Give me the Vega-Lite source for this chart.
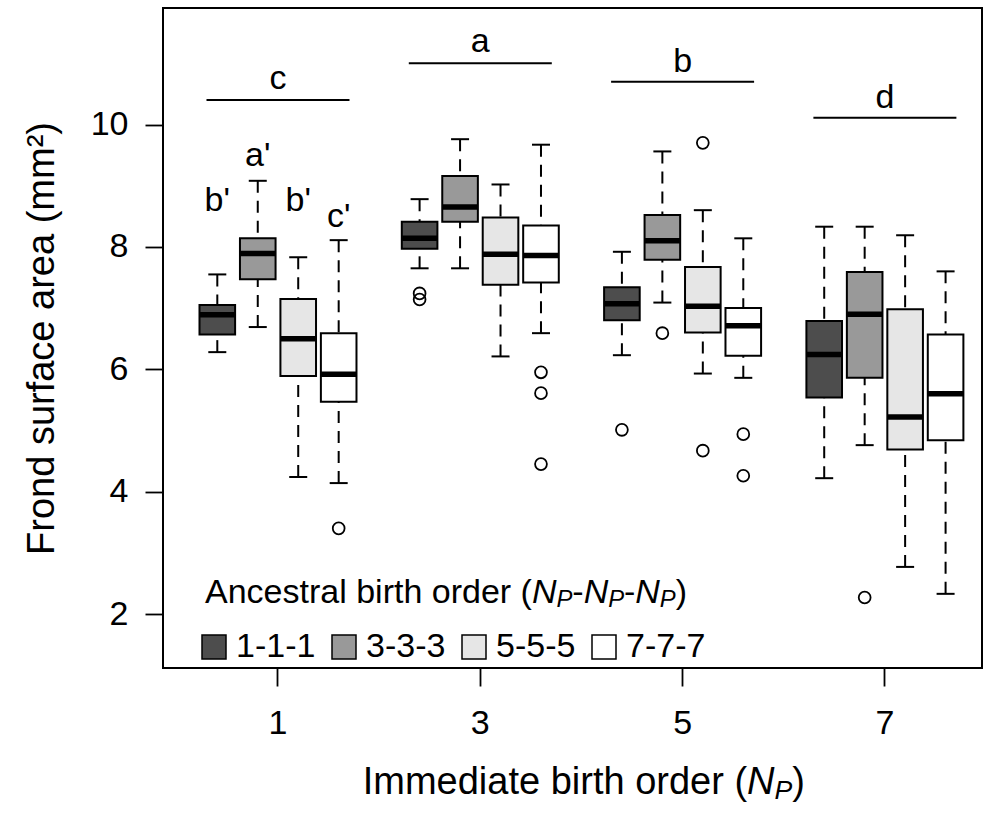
{
  "$schema": "https://vega.github.io/schema/vega-lite/v6.json",
  "width": 819,
  "height": 660,
  "autosize": {"type": "none"},
  "padding": {"left": 163, "top": 8, "right": 13, "bottom": 145},
  "background": "white",
  "config": {
    "font": "Liberation Sans",
    "view": {"stroke": "black", "strokeWidth": 2},
    "axis": {
      "domain": false, "grid": false,
      "tickColor": "black", "tickWidth": 1.8, "tickSize": 18,
      "labelColor": "black", "labelFontSize": 34,
      "titleColor": "black", "titleFontWeight": "normal"
    },
    "axisY": {
      "labelPadding": 17, "titleFontSize": 38, "titleAngle": -90,
      "titleX": -110, "titleY": 330, "titleAlign": "center", "titleBaseline": "alphabetic"
    },
    "text": {"color": "black"}
  },
  "datasets": {
    "boxes": [
      {"np": "1", "anc": "1-1-1", "lo": 6.28, "q1": 6.57, "med": 6.89, "q3": 7.05, "hi": 7.55},
      {"np": "1", "anc": "3-3-3", "lo": 6.69, "q1": 7.47, "med": 7.89, "q3": 8.14, "hi": 9.08},
      {"np": "1", "anc": "5-5-5", "lo": 4.24, "q1": 5.89, "med": 6.50, "q3": 7.15, "hi": 7.83},
      {"np": "1", "anc": "7-7-7", "lo": 4.14, "q1": 5.47, "med": 5.92, "q3": 6.59, "hi": 8.11},
      {"np": "3", "anc": "1-1-1", "lo": 7.65, "q1": 7.97, "med": 8.14, "q3": 8.41, "hi": 8.78},
      {"np": "3", "anc": "3-3-3", "lo": 7.65, "q1": 8.41, "med": 8.65, "q3": 9.16, "hi": 9.76},
      {"np": "3", "anc": "5-5-5", "lo": 6.21, "q1": 7.38, "med": 7.88, "q3": 8.48, "hi": 9.02},
      {"np": "3", "anc": "7-7-7", "lo": 6.59, "q1": 7.42, "med": 7.86, "q3": 8.35, "hi": 9.67},
      {"np": "5", "anc": "1-1-1", "lo": 6.23, "q1": 6.80, "med": 7.07, "q3": 7.34, "hi": 7.92},
      {"np": "5", "anc": "3-3-3", "lo": 7.09, "q1": 7.79, "med": 8.10, "q3": 8.52, "hi": 9.56},
      {"np": "5", "anc": "5-5-5", "lo": 5.93, "q1": 6.60, "med": 7.03, "q3": 7.67, "hi": 8.60},
      {"np": "5", "anc": "7-7-7", "lo": 5.86, "q1": 6.22, "med": 6.71, "q3": 7.00, "hi": 8.14},
      {"np": "7", "anc": "1-1-1", "lo": 4.22, "q1": 5.54, "med": 6.24, "q3": 6.79, "hi": 8.33},
      {"np": "7", "anc": "3-3-3", "lo": 4.76, "q1": 5.86, "med": 6.90, "q3": 7.59, "hi": 8.33},
      {"np": "7", "anc": "5-5-5", "lo": 2.77, "q1": 4.69, "med": 5.22, "q3": 6.98, "hi": 8.19},
      {"np": "7", "anc": "7-7-7", "lo": 2.33, "q1": 4.84, "med": 5.60, "q3": 6.57, "hi": 7.60}
    ],
    "outliers": [
      {"np": "1", "anc": "7-7-7", "value": 3.40},
      {"np": "3", "anc": "1-1-1", "value": 7.24},
      {"np": "3", "anc": "1-1-1", "value": 7.14},
      {"np": "3", "anc": "7-7-7", "value": 5.95},
      {"np": "3", "anc": "7-7-7", "value": 5.61},
      {"np": "3", "anc": "7-7-7", "value": 4.45},
      {"np": "5", "anc": "1-1-1", "value": 5.01},
      {"np": "5", "anc": "3-3-3", "value": 6.59},
      {"np": "5", "anc": "5-5-5", "value": 9.70},
      {"np": "5", "anc": "5-5-5", "value": 4.67},
      {"np": "5", "anc": "7-7-7", "value": 4.94},
      {"np": "5", "anc": "7-7-7", "value": 4.26},
      {"np": "7", "anc": "3-3-3", "value": 2.27}
    ],
    "groupLetters": [
      {"np": "1", "label": "c", "y": 10.58, "bar": 10.40},
      {"np": "3", "label": "a", "y": 11.18, "bar": 11.00},
      {"np": "5", "label": "b", "y": 10.86, "bar": 10.70},
      {"np": "7", "label": "d", "y": 10.27, "bar": 10.11}
    ],
    "primeLetters": [
      {"np": "1", "anc": "1-1-1", "label": "b'", "y": 8.59},
      {"np": "1", "anc": "3-3-3", "label": "a'", "y": 9.32},
      {"np": "1", "anc": "5-5-5", "label": "b'", "y": 8.59},
      {"np": "1", "anc": "7-7-7", "label": "c'", "y": 8.33}
    ]
  },
  "resolve": {"scale": {"x": "independent", "y": "independent"}},
  "layer": [
    {
      "encoding": {
        "x": {
          "field": "np", "type": "ordinal",
          "scale": {"type": "band", "domain": ["1", "3", "5", "7"], "paddingInner": 0.2, "paddingOuter": 0.1242, "align": 0.678},
          "axis": {"labelAngle": 0, "labelPadding": 20, "title": null}
        }
      },
      "layer": [
        {
          "data": {"name": "boxes"},
          "mark": {"type": "rule", "color": "black", "strokeWidth": 2, "strokeDash": [12, 8]},
          "encoding": {
            "xOffset": {"field": "anc", "type": "nominal", "scale": {"domain": ["1-1-1", "3-3-3", "5-5-5", "7-7-7"], "paddingInner": 0.12, "paddingOuter": 0.06}},
            "y": {
              "field": "hi", "type": "quantitative", "title": "Frond surface area (mm²)",
              "scale": {"domain": [1.118, 11.904], "nice": false, "zero": false},
              "axis": {"values": [2, 4, 6, 8, 10], "format": "d"}
            },
            "y2": {"field": "q3"}
          }
        },
        {
          "data": {"name": "boxes"},
          "mark": {"type": "rule", "color": "black", "strokeWidth": 2, "strokeDash": [12, 8]},
          "encoding": {
            "xOffset": {"field": "anc", "type": "nominal"},
            "y": {"field": "lo", "type": "quantitative", "title": "Frond surface area (mm²)"},
            "y2": {"field": "q1"}
          }
        },
        {
          "data": {"name": "boxes"},
          "mark": {"type": "tick", "color": "black", "thickness": 2, "size": 18, "orient": "horizontal", "opacity": 1},
          "encoding": {
            "xOffset": {"field": "anc", "type": "nominal"},
            "y": {"field": "hi", "type": "quantitative", "title": "Frond surface area (mm²)"}
          }
        },
        {
          "data": {"name": "boxes"},
          "mark": {"type": "tick", "color": "black", "thickness": 2, "size": 18, "orient": "horizontal", "opacity": 1},
          "encoding": {
            "xOffset": {"field": "anc", "type": "nominal"},
            "y": {"field": "lo", "type": "quantitative", "title": "Frond surface area (mm²)"}
          }
        },
        {
          "data": {"name": "boxes"},
          "mark": {"type": "bar", "stroke": "black", "strokeWidth": 2, "opacity": 1},
          "encoding": {
            "xOffset": {"field": "anc", "type": "nominal"},
            "y": {"field": "q1", "type": "quantitative", "title": "Frond surface area (mm²)"},
            "y2": {"field": "q3"},
            "fill": {
              "field": "anc", "type": "nominal",
              "scale": {"domain": ["1-1-1", "3-3-3", "5-5-5", "7-7-7"], "range": ["#4d4d4d", "#999999", "#e6e6e6", "#ffffff"]},
              "legend": {
                "orient": "none", "legendX": 34, "legendY": 622,
                "direction": "horizontal", "columns": 4, "title": null,
                "symbolType": "square", "symbolSize": 576,
                "symbolStrokeColor": "black", "symbolStrokeWidth": 1.5, "symbolOpacity": 1,
                "labelFontSize": 34, "labelOffset": 5, "labelColor": "black",
                "columnPadding": 11, "padding": 0
              }
            }
          }
        },
        {
          "data": {"name": "boxes"},
          "mark": {"type": "tick", "color": "black", "thickness": 5.5, "size": 36, "orient": "horizontal", "opacity": 1},
          "encoding": {
            "xOffset": {"field": "anc", "type": "nominal"},
            "y": {"field": "med", "type": "quantitative", "title": "Frond surface area (mm²)"}
          }
        },
        {
          "data": {"name": "outliers"},
          "mark": {"type": "point", "shape": "circle", "filled": false, "stroke": "black", "strokeWidth": 1.8, "size": 140, "opacity": 1},
          "encoding": {
            "xOffset": {"field": "anc", "type": "nominal"},
            "y": {"field": "value", "type": "quantitative", "title": "Frond surface area (mm²)"}
          }
        },
        {
          "data": {"name": "groupLetters"},
          "mark": {"type": "tick", "color": "black", "thickness": 2, "size": 143, "orient": "horizontal", "opacity": 1},
          "encoding": {
            "y": {"field": "bar", "type": "quantitative", "title": "Frond surface area (mm²)"}
          }
        },
        {
          "data": {"name": "groupLetters"},
          "mark": {"type": "text", "fontSize": 34, "baseline": "alphabetic", "align": "center"},
          "encoding": {
            "y": {"field": "y", "type": "quantitative", "title": "Frond surface area (mm²)"},
            "text": {"field": "label"}
          }
        },
        {
          "data": {"name": "primeLetters"},
          "mark": {"type": "text", "fontSize": 34, "baseline": "alphabetic", "align": "center"},
          "encoding": {
            "xOffset": {"field": "anc", "type": "nominal"},
            "y": {"field": "y", "type": "quantitative", "title": "Frond surface area (mm²)"},
            "text": {"field": "label"}
          }
        }
      ]
    },
    {
      "encoding": {
        "y": {"field": "at", "type": "quantitative", "scale": {"domain": [1.118, 11.904], "nice": false, "zero": false}, "axis": null},
        "x": {"field": "from", "type": "quantitative", "scale": {"domain": [-0.137, 7.958], "nice": false, "zero": false}, "axis": null},
        "text": {"field": "t"}
      },
      "layer": [
        {
          "data": {"values": [{"t": "Immediate birth order (", "from": 5.636, "at": -0.946}]},
          "mark": {"type": "text", "fontSize": 38, "align": "right", "baseline": "alphabetic"}
        },
        {
          "data": {"values": [{"t": "N", "from": 5.636, "at": -0.946}]},
          "mark": {"type": "text", "fontSize": 38, "fontStyle": "italic", "align": "left", "baseline": "alphabetic"}
        },
        {
          "data": {"values": [{"t": "P", "from": 5.636, "at": -0.946}]},
          "mark": {"type": "text", "fontSize": 26.6, "fontStyle": "italic", "align": "left", "baseline": "alphabetic", "dx": 27.4, "dy": 5}
        },
        {
          "data": {"values": [{"t": ")", "from": 5.636, "at": -0.946}]},
          "mark": {"type": "text", "fontSize": 38, "align": "left", "baseline": "alphabetic", "dx": 45.1}
        },
        {
          "data": {"values": [{"t": "Ancestral birth order (", "from": 0.2784, "at": 2.175}]},
          "mark": {"type": "text", "fontSize": 34, "align": "left", "baseline": "alphabetic"}
        },
        {
          "data": {"values": [{"t": "N", "from": 0.2784, "at": 2.175}]},
          "mark": {"type": "text", "fontSize": 34, "fontStyle": "italic", "align": "left", "baseline": "alphabetic", "dx": 326.9}
        },
        {
          "data": {"values": [{"t": "P", "from": 0.2784, "at": 2.175}]},
          "mark": {"type": "text", "fontSize": 23.8, "fontStyle": "italic", "align": "left", "baseline": "alphabetic", "dx": 351.4, "dy": 4}
        },
        {
          "data": {"values": [{"t": "-", "from": 0.2784, "at": 2.175}]},
          "mark": {"type": "text", "fontSize": 34, "align": "left", "baseline": "alphabetic", "dx": 367.3}
        },
        {
          "data": {"values": [{"t": "N", "from": 0.2784, "at": 2.175}]},
          "mark": {"type": "text", "fontSize": 34, "fontStyle": "italic", "align": "left", "baseline": "alphabetic", "dx": 378.6}
        },
        {
          "data": {"values": [{"t": "P", "from": 0.2784, "at": 2.175}]},
          "mark": {"type": "text", "fontSize": 23.8, "fontStyle": "italic", "align": "left", "baseline": "alphabetic", "dx": 403.1, "dy": 4}
        },
        {
          "data": {"values": [{"t": "-", "from": 0.2784, "at": 2.175}]},
          "mark": {"type": "text", "fontSize": 34, "align": "left", "baseline": "alphabetic", "dx": 419.0}
        },
        {
          "data": {"values": [{"t": "N", "from": 0.2784, "at": 2.175}]},
          "mark": {"type": "text", "fontSize": 34, "fontStyle": "italic", "align": "left", "baseline": "alphabetic", "dx": 430.3}
        },
        {
          "data": {"values": [{"t": "P", "from": 0.2784, "at": 2.175}]},
          "mark": {"type": "text", "fontSize": 23.8, "fontStyle": "italic", "align": "left", "baseline": "alphabetic", "dx": 454.8, "dy": 4}
        },
        {
          "data": {"values": [{"t": ")", "from": 0.2784, "at": 2.175}]},
          "mark": {"type": "text", "fontSize": 34, "align": "left", "baseline": "alphabetic", "dx": 470.7}
        }
      ]
    }
  ]
}
